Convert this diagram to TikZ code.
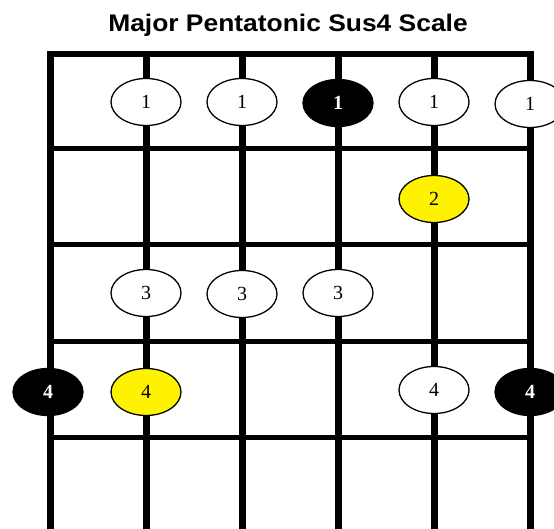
\documentclass[tikz,border=0pt]{standalone}
\usepackage{fontspec}
\setmainfont{Liberation Serif}
\newfontfamily\titlefont{Liberation Sans}
\usetikzlibrary{shapes.geometric}
\tikzset{
  note/.style={ellipse, draw=black, line width=1.3pt, minimum width=70pt, minimum height=47pt, inner sep=0pt, font=\fontsize{20}{20}\selectfont},
  white note/.style={note, fill=white},
  yellow note/.style={note, fill=yellow},
  root note/.style={note, fill=black, text=white, font=\fontsize{20}{20}\selectfont\bfseries},
  stringline/.style={line width=7pt},
  fretline/.style={line width=5pt},
}
\begin{document}
\begin{tikzpicture}[x=1pt,y=-1pt]
\useasboundingbox[fill=white] (0,0) rectangle (554,529);
\node[font=\titlefont\fontsize{24}{24}\selectfont\bfseries, anchor=base, xscale=1.1, inner sep=0pt] (title) at (288,32) {Major Pentatonic Sus4 Scale};
% nut
\draw[line width=6pt] (46.5,54) -- (533.5,54);
% frets
\foreach \y in {149,245,341,437} \draw[fretline] (50,\y) -- (530,\y);
% strings
\foreach \x in {50,146,242,338,434,530} \draw[stringline] (\x,54) -- (\x,529);
% row 1
\node[white note] (r1s2) at (146,102) {1};
\node[white note] (r1s3) at (242,102) {1};
\node[root note]  (r1s4) at (338,103) {1};
\node[white note] (r1s5) at (434,102) {1};
\node[white note] (r1s6) at (530,104) {1};
% row 2
\node[yellow note] (r2s5) at (434,199) {2};
% row 3
\node[white note] (r3s2) at (146,293) {3};
\node[white note] (r3s3) at (242,294) {3};
\node[white note] (r3s4) at (338,293) {3};
% row 4
\node[root note]   (r4s1) at (48,392) {4};
\node[yellow note] (r4s2) at (146,392) {4};
\node[white note]  (r4s5) at (434,390) {4};
\node[root note]   (r4s6) at (530,392) {4};
\end{tikzpicture}
\end{document}
